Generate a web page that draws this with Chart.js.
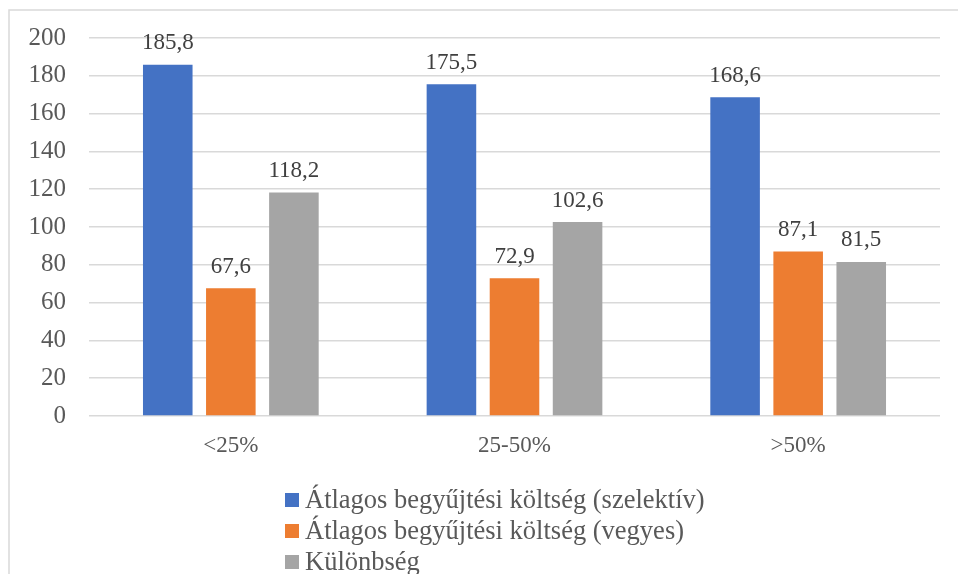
<!DOCTYPE html>
<html>
<head>
<meta charset="utf-8">
<script src="https://cdn.jsdelivr.net/npm/chart.js@4.4.0/dist/chart.umd.min.js"></script>
<style>
  html, body { margin: 0; padding: 0; background: #ffffff; }
  #wrap { width: 958px; height: 574px; }
</style>
</head>
<body>
<div id="wrap"><canvas id="c" width="958" height="574"></canvas></div>
<script>
// Categories (share of selective collection) and series values
const categories = ['<25%', '25-50%', '>50%'];
const seriesNames = [
  'Átlagos begyűjtési költség (szelektív)',
  'Átlagos begyűjtési költség (vegyes)',
  'Különbség'
];
const selectiveCost = [185.8, 175.5, 168.6];
const mixedCost = [67.6, 72.9, 87.1];
const difference = [118.2, 102.6, 81.5];
const yTicks = [0, 20, 40, 60, 80, 100, 120, 140, 160, 180, 200];

const colors = ['#4472C4', '#ED7D31', '#A5A5A5'];
const serif = '"Liberation Serif", "Times New Roman", serif';
const textGray = '#595959';

// Light frame around the whole chart
const framePlugin = {
  id: 'frame',
  beforeDraw(chart) {
    const ctx = chart.ctx;
    ctx.save();
    ctx.fillStyle = '#ffffff';
    ctx.fillRect(0, 0, chart.width, chart.height);
    ctx.strokeStyle = '#d9d9d9';
    ctx.lineWidth = 1.5;
    ctx.strokeRect(9, 10, chart.width + 50, chart.height + 50);
    ctx.restore();
  }
};

// Value labels above each bar, decimal comma
const valueLabels = {
  id: 'valueLabels',
  afterDatasetsDraw(chart) {
    const ctx = chart.ctx;
    ctx.save();
    ctx.font = '23px ' + serif;
    ctx.fillStyle = '#404040';
    ctx.textAlign = 'center';
    ctx.textBaseline = 'alphabetic';
    chart.data.datasets.forEach((ds, i) => {
      const meta = chart.getDatasetMeta(i);
      meta.data.forEach((bar, j) => {
        const txt = ds.data[j].toFixed(1).replace('.', ',');
        ctx.fillText(txt, bar.x, bar.y - 15.5);
      });
    });
    ctx.restore();
  }
};

// Stacked legend list under the axis
const stackedLegend = {
  id: 'stackedLegend',
  afterDraw(chart) {
    const ctx = chart.ctx;
    const left = 285;
    const firstRow = 500;
    const rowGap = 31;
    const box = 14;
    ctx.save();
    ctx.font = '26.5px ' + serif;
    ctx.textAlign = 'left';
    ctx.textBaseline = 'middle';
    chart.data.datasets.forEach((ds, i) => {
      const cy = firstRow + i * rowGap;
      ctx.fillStyle = ds.backgroundColor;
      ctx.fillRect(left, cy - box / 2, box, box);
      ctx.fillStyle = textGray;
      ctx.fillText(ds.label, left + box + 6, cy + 1);
    });
    ctx.restore();
  }
};

const seriesValues = [selectiveCost, mixedCost, difference];

new Chart(document.getElementById('c'), {
  type: 'bar',
  data: {
    labels: categories,
    datasets: seriesValues.map((vals, i) => ({
      label: seriesNames[i],
      data: vals,
      backgroundColor: colors[i],
      borderWidth: 0,
      categoryPercentage: 0.667,
      barPercentage: 0.786
    }))
  },
  options: {
    responsive: false,
    animation: false,
    layout: { padding: { top: 38, right: 18, bottom: 0, left: 0 } },
    plugins: {
      legend: { display: false },
      tooltip: { enabled: false }
    },
    scales: {
      x: {
        grid: { display: false, drawTicks: false },
        border: { display: false },
        ticks: { font: { family: serif, size: 23 }, color: textGray, padding: 16 },
        afterFit(scale) { scale.height = 158; }
      },
      y: {
        min: 0,
        max: 200,
        afterBuildTicks(scale) { scale.ticks = yTicks.map(v => ({ value: v })); },
        grid: { color: '#d9d9d9', lineWidth: 1.5, drawTicks: false },
        border: { display: false },
        ticks: { font: { family: serif, size: 25 }, color: textGray, padding: 23 },
        afterFit(scale) { scale.width = 89; }
      }
    }
  },
  plugins: [framePlugin, valueLabels, stackedLegend]
});
</script>
</body>
</html>
